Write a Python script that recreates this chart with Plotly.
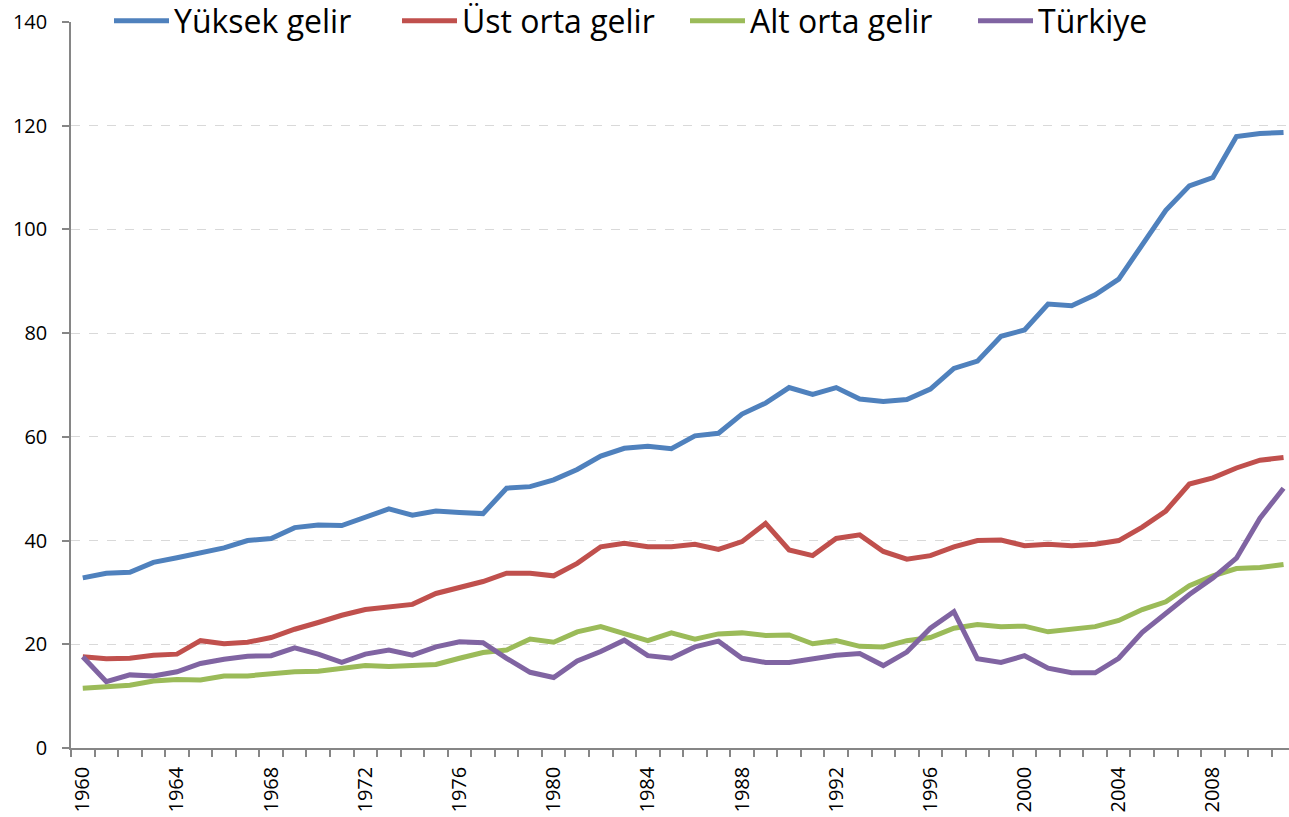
import plotly.graph_objects as go

years = list(range(1960, 2012))

yuksek_gelir = [32.8, 33.7, 33.9, 35.8, 36.7, 37.7, 38.6, 40.0, 40.4, 42.5,
                43.0, 42.9, 44.5, 46.1, 44.9, 45.7, 45.4, 45.2, 50.1, 50.4,
                51.7, 53.7, 56.3, 57.8, 58.2, 57.7, 60.2, 60.7, 64.4, 66.5,
                69.5, 68.2, 69.5, 67.3, 66.8, 67.2, 69.2, 73.2, 74.6, 79.4,
                80.6, 85.6, 85.3, 87.4, 90.4, 97.0, 103.7, 108.4, 110.0, 117.9,
                118.5, 118.7]
ust_orta_gelir = [17.6, 17.2, 17.3, 17.9, 18.1, 20.7, 20.1, 20.4, 21.3, 22.9,
                  24.2, 25.6, 26.7, 27.2, 27.7, 29.8, 31.0, 32.1, 33.7, 33.7,
                  33.2, 35.6, 38.8, 39.5, 38.8, 38.8, 39.3, 38.3, 39.8, 43.3,
                  38.2, 37.1, 40.4, 41.1, 37.9, 36.4, 37.1, 38.8, 40.0, 40.1,
                  39.0, 39.3, 39.0, 39.3, 40.0, 42.6, 45.7, 50.9, 52.1, 54.0,
                  55.5, 56.0]
alt_orta_gelir = [11.5, 11.7, 12.1, 12.9, 13.2, 13.1, 13.9, 13.9, 14.4, 14.7,
                  14.8, 15.4, 15.9, 15.7, 15.8, 16.1, 17.3, 18.4, 18.9, 21.0,
                  20.4, 22.4, 23.4, 22.1, 20.7, 22.2, 21.0, 22.0, 22.2, 21.7,
                  21.8, 20.1, 20.7, 19.6, 19.5, 20.7, 21.3, 23.1, 23.8, 23.4,
                  23.5, 22.4, 22.8, 23.4, 24.6, 26.7, 28.2, 31.3, 33.2, 34.6,
                  34.8, 35.4]
turkiye = [17.6, 12.8, 14.1, 13.9, 14.7, 16.3, 17.1, 17.7, 17.8, 19.3,
           18.1, 16.5, 18.1, 18.9, 17.9, 19.5, 20.5, 20.3, 17.3, 14.6,
           13.6, 16.8, 18.6, 20.8, 17.8, 17.3, 19.5, 20.6, 17.3, 16.5,
           16.5, 17.2, 17.9, 18.2, 15.9, 18.5, 23.1, 26.3, 17.2, 16.5,
           17.8, 15.4, 14.5, 14.5, 17.3, 22.3, 26.0, 29.6, 32.8, 36.6,
           44.3, 50.1]

series_names = ["Yüksek gelir", "Üst orta gelir", "Alt orta gelir", "Türkiye"]
series_values = [yuksek_gelir, ust_orta_gelir, alt_orta_gelir, turkiye]
series_colors = ["#4F81BD", "#C0504D", "#9BBB59", "#8064A2"]

tick_years = list(range(1960, 2012, 4))
y_ticks = list(range(0, 141, 20))

fig = go.Figure()
for name, vals, col in zip(series_names, series_values, series_colors):
    fig.add_trace(go.Scatter(x=years, y=vals, name=name, mode="lines",
                             line=dict(color=col, width=5)))

W, H = 1289, 817
left, top, bottom = 70.7, 22, 69
cat_w = 23.55
x_end = 1959.5 + (W - left) / cat_w
plot_w = W - left

font_family = "Open Sans"
fig.update_layout(
    width=W, height=H,
    margin=dict(l=left, r=0, t=top, b=bottom, autoexpand=False),
    paper_bgcolor="white", plot_bgcolor="white",
    font=dict(family=font_family, color="black", size=20),
    legend=dict(orientation="h", xref="container", yref="container",
                x=109 / W, y=1 - 21 / H, xanchor="left", yanchor="middle",
                bgcolor="rgba(0,0,0,0)", borderwidth=0,
                font=dict(size=32, family=font_family, color="black"),
                itemwidth=55, entrywidth=218, entrywidthmode="pixels",
                tracegroupgap=0),
    # white band hiding the top gridline behind the legend (as in the original)
    shapes=[dict(type="rect", xref="paper", yref="paper",
                 x0=(110 - left) / plot_w, x1=(1190 - left) / plot_w,
                 y0=0.99, y1=1.02, fillcolor="white", line_width=0,
                 layer="above")],
    xaxis=dict(range=[1959.5, x_end], tickmode="array", tickvals=tick_years,
               ticktext=[str(y) for y in tick_years], tickangle=-90,
               ticks="", showgrid=False, zeroline=False,
               showline=True, linecolor="#868686", linewidth=1.5,
               tickfont=dict(size=20), ticklabelstandoff=9,
               minor=dict(tickmode="linear", tick0=1959.5, dtick=1,
                          ticks="outside", ticklen=7, tickcolor="#868686",
                          tickwidth=1.5, showgrid=False)),
    yaxis=dict(range=[0, 140], tickvals=y_ticks, ticks="outside", ticklen=7,
               tickcolor="#868686", tickwidth=1.5,
               showline=True, linecolor="#868686", linewidth=1.5,
               showgrid=True, gridcolor="#D9D9D9", griddash="dash",
               gridwidth=1, zeroline=False, tickfont=dict(size=20),
               ticklabelstandoff=11),
)

fig.write_html("out.html", config={"displayModeBar": False},
               post_script="document.body.style.margin='0';document.body.style.overflow='hidden';")
